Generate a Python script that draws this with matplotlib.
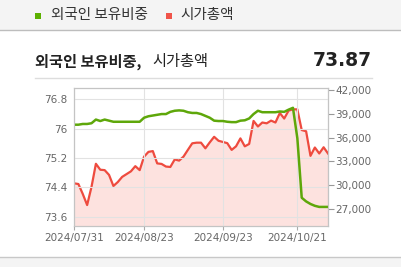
import numpy as np
import matplotlib
matplotlib.use("Agg")
import matplotlib.pyplot as plt
from matplotlib.patches import Rectangle
from matplotlib.lines import Line2D

plt.rcParams['font.family'] = ['Noto Sans CJK KR', 'DejaVu Sans']

# data (trading-day index)
foreign_ratio = [76.11, 76.11, 76.13, 76.13, 76.15, 76.25, 76.21, 76.25, 76.22, 76.19,
                 76.19, 76.19, 76.19, 76.19, 76.19, 76.19, 76.30, 76.34, 76.36, 76.38,
                 76.40, 76.40, 76.46, 76.49, 76.50, 76.49, 76.45, 76.43, 76.43, 76.40,
                 76.35, 76.30, 76.22, 76.21, 76.21, 76.19, 76.18, 76.18, 76.22, 76.23,
                 76.28, 76.40, 76.49, 76.45, 76.45, 76.45, 76.45, 76.47, 76.46, 76.52,
                 76.57, 75.74, 74.12, 74.02, 73.95, 73.90, 73.87, 73.87, 73.87]
market_cap = [30240, 30150, 28900, 27500, 29800, 32700, 31950, 31900, 31300, 29900,
              30400, 31050, 31400, 31750, 32400, 31900, 33600, 34200, 34300, 32750,
              32680, 32350, 32300, 33250, 33100, 33600, 34450, 35280, 35360, 35360,
              34650, 35400, 36100, 35600, 35450, 35300, 34450, 34900, 35900, 34900,
              35200, 38100, 37400, 37900, 37800, 38140, 37900, 39100, 38400, 39400,
              39560, 39560, 36950, 36800, 33700, 34750, 34000, 34780, 34000]
tick_idx = [0, 16, 34, 51]
tick_labels = ['2024/07/31', '2024/08/23', '2024/09/23', '2024/10/21']
left_ticks = [73.6, 74.4, 75.2, 76, 76.8]
right_ticks = [27000, 30000, 33000, 36000, 39000, 42000]

green = '#5ea70a'
red = '#ee4b3f'
fill = '#fde2df'
gray_txt = '#666666'

fig = plt.figure(figsize=(4.02, 2.67), dpi=100)
fig.patch.set_facecolor('white')

W, H = 402, 267
def fx(x): return x / W
def fy(y): return 1 - y / H

# top legend band
fig.add_artist(Rectangle((0, fy(30)), 1, 30 / H, transform=fig.transFigure,
                         facecolor='#f4f4f4', edgecolor='none'))
fig.add_artist(Line2D([0, 1], [fy(30), fy(30)], transform=fig.transFigure,
                      color='#bdbdbd', lw=1))
fig.add_artist(Rectangle((fx(35.5), fy(19)), 6 / W, 6 / H, transform=fig.transFigure,
                         facecolor='#5cb000', edgecolor='none'))
fig.text(fx(51), fy(15.5), '외국인 보유비중', fontsize=10.5, color='#333333', va='center')
fig.add_artist(Rectangle((fx(166), fy(19)), 6 / W, 6 / H, transform=fig.transFigure,
                         facecolor='#f0544a', edgecolor='none'))
fig.text(fx(180), fy(15.5), '시가총액', fontsize=10.5, color='#333333', va='center')

# bottom band
fig.add_artist(Rectangle((0, 0), 1, fy(257), transform=fig.transFigure,
                         facecolor='#f4f4f4', edgecolor='none'))
fig.add_artist(Line2D([0, 1], [fy(257), fy(257)], transform=fig.transFigure,
                      color='#c8c8c8', lw=1))

# title row
fig.text(fx(35), fy(61.5), '외국인 보유비중,', fontsize=11, fontweight='bold',
         color='#222222', va='center')
fig.text(fx(152), fy(61.5), '시가총액', fontsize=11, color='#222222', va='center')
fig.text(fx(372), fy(60), '73.87', fontsize=13.5, fontweight='bold',
         color='#222222', va='center', ha='right', family='DejaVu Sans')
fig.add_artist(Line2D([fx(35), fx(372)], [fy(78), fy(78)], transform=fig.transFigure,
                      color='#dddddd', lw=1))

# chart
ax = fig.add_axes([fx(74), fy(226), (328 - 74) / W, (226 - 88) / H])
ax2 = ax.twinx()
x = np.arange(len(market_cap))

ax2.fill_between(x, market_cap, 0, color=fill, lw=0)
ax2.plot(x, market_cap, color=red, lw=1.6)
ax.plot(x, foreign_ratio, color=green, lw=1.8)
ax.set_zorder(ax2.get_zorder() + 1)
ax.patch.set_visible(False)

ax.set_xlim(0, 58)
ax.set_ylim(73.35, 77.11)
ax2.set_ylim(24860, 42250)

ax.set_yticks(left_ticks)
ax.set_yticklabels(['73.6', '74.4', '75.2', '76', '76.8'])
ax2.set_yticks(right_ticks)
ax2.set_yticklabels([f'{v:,}' for v in right_ticks])
ax.set_xticks(tick_idx)
ax.set_xticklabels(tick_labels)

ax.grid(True, color='#e2e2e2', lw=0.8)
ax.tick_params(axis='y', length=0, labelsize=7.5, labelcolor=gray_txt, pad=5)
ax.tick_params(axis='x', length=3, color='#aaaaaa', labelsize=7.5,
               labelcolor=gray_txt, pad=2)
ax2.tick_params(axis='y', length=4, color='#999999', labelsize=7.5,
                labelcolor=gray_txt, pad=1)
for lab in ax.get_xticklabels() + ax.get_yticklabels() + ax2.get_yticklabels():
    lab.set_family('DejaVu Sans')

for a in (ax, ax2):
    for s in a.spines.values():
        s.set_color('#c4c4c4')
        s.set_linewidth(0.8)
ax2.spines['right'].set_color('#999999')

fig.savefig('out.png', dpi=100)
